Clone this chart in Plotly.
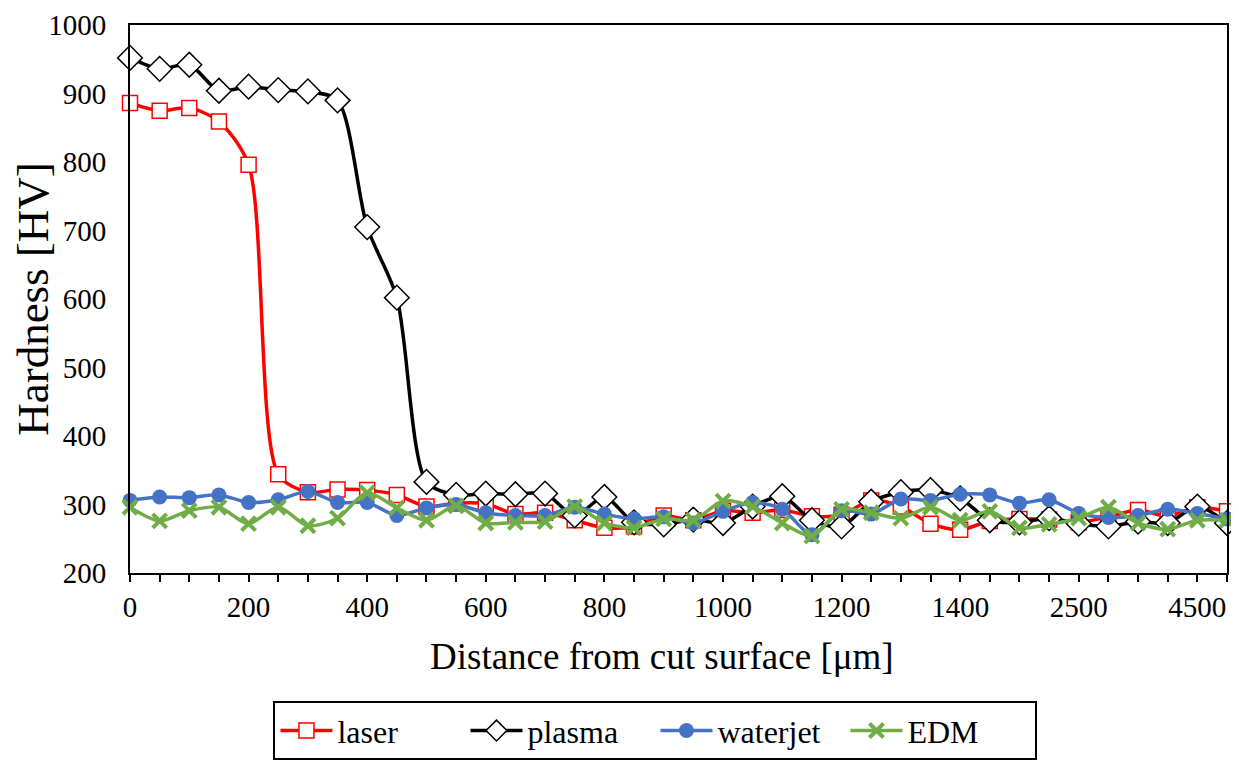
import plotly.graph_objects as go

distance_um = [str(v) for v in list(range(0, 1401, 50)) + [1450, 1500, 2000, 2500, 3000, 3500, 4000, 4500, 5000]]
shown_labels = ["0", "200", "400", "600", "800", "1000", "1200", "1400", "2500", "4500"]

laser = [886, 875, 879, 859, 796, 344, 318, 322, 321, 314, 297, 302, 301, 286, 288, 277, 266, 268, 284, 277,
         291, 288, 292, 283, 285, 306, 297, 272, 263, 276, 279, 278, 274, 282, 292, 283, 296, 290]
plasma = [952, 936, 942, 904, 910, 905, 903, 890, 705, 602, 333, 314, 316, 315, 316, 284, 311, 274, 271, 278,
          273, 297, 312, 277, 268, 304, 318, 321, 309, 277, 274, 280, 272, 268, 275, 273, 297, 273]
waterjet = [306, 311, 310, 314, 303, 307, 319, 303, 303, 284, 295, 300, 288, 284, 284, 296, 286, 279, 282, 273,
            290, 303, 293, 256, 291, 286, 308, 306, 315, 314, 302, 307, 287, 281, 284, 293, 287, 279]
edm = [296, 276, 291, 296, 272, 296, 269, 280, 317, 295, 277, 298, 273, 274, 275, 297, 273, 266, 279, 277,
       305, 297, 273, 254, 293, 288, 280, 296, 277, 290, 266, 271, 280, 296, 273, 264, 277, 277]

x_title = "Distance from cut surface [μm]"
y_title = "Hardness [HV]"

FONT = "Liberation Serif, Times New Roman, serif"

ticktext = [d if d in shown_labels else "" for d in distance_um]

fig = go.Figure()
fig.add_trace(go.Scatter(
    x=distance_um, y=laser, name="laser", mode="lines+markers",
    line=dict(color="#FF0000", width=3.5, shape="spline", smoothing=0.8),
    marker=dict(symbol="square", size=15, color="white", line=dict(color="#FF0000", width=1.5)),
    cliponaxis=False))
fig.add_trace(go.Scatter(
    x=distance_um, y=plasma, name="plasma", mode="lines+markers",
    line=dict(color="#000000", width=3.5, shape="spline", smoothing=0.8),
    marker=dict(symbol="diamond", size=19, color="white", line=dict(color="#000000", width=1.5)),
    cliponaxis=False))
fig.add_trace(go.Scatter(
    x=distance_um, y=waterjet, name="waterjet", mode="lines+markers",
    line=dict(color="#4472C4", width=3.5, shape="spline", smoothing=0.8),
    marker=dict(symbol="circle", size=15, color="#4472C4"),
    cliponaxis=False))
fig.add_trace(go.Scatter(
    x=distance_um, y=edm, name="EDM", mode="lines+markers",
    line=dict(color="#70AD47", width=3.5, shape="spline", smoothing=0.8),
    marker=dict(symbol="x-thin", size=14, color="#70AD47", line=dict(color="#70AD47", width=4)),
    cliponaxis=False))

fig.add_annotation(text=x_title, xref="paper", yref="paper", x=0.485, y=-0.153,
                   xanchor="center", yanchor="middle", showarrow=False,
                   font=dict(size=37, family=FONT, color="black"))

fig.update_layout(
    width=1231, height=752,
    margin=dict(l=122, r=12, t=17, b=187, autoexpand=False),
    paper_bgcolor="white", plot_bgcolor="white",
    font=dict(family=FONT, color="black", size=29),
    showlegend=True,
    legend=dict(orientation="h", x=0.479, xanchor="center", y=-0.234, yanchor="top",
                bordercolor="black", borderwidth=2, font=dict(size=32, family=FONT),
                itemwidth=52, entrywidth=123, entrywidthmode="pixels",
                tracegroupgap=0, bgcolor="white"),
    xaxis=dict(
        type="category", range=[0, len(distance_um) - 1],
        tickmode="array", tickvals=distance_um, ticktext=ticktext,
        ticks="outside", ticklen=7, tickwidth=1.5, tickcolor="black",
        showline=True, linecolor="black", linewidth=2, mirror=True,
        showgrid=False, zeroline=False, ticklabeloverflow="allow",
        tickfont=dict(size=29, family=FONT),
    ),
    yaxis=dict(
        range=[200, 1000], tickmode="linear", tick0=200, dtick=100,
        ticks="", showline=True, linecolor="black", linewidth=2, mirror=True,
        showgrid=False, zeroline=False, ticklabelstandoff=16, ticklabeloverflow="allow",
        tickfont=dict(size=29, family=FONT),
        title=dict(text=y_title, font=dict(size=45, family=FONT), standoff=3),
    ),
)

fig.write_html("out.html")
